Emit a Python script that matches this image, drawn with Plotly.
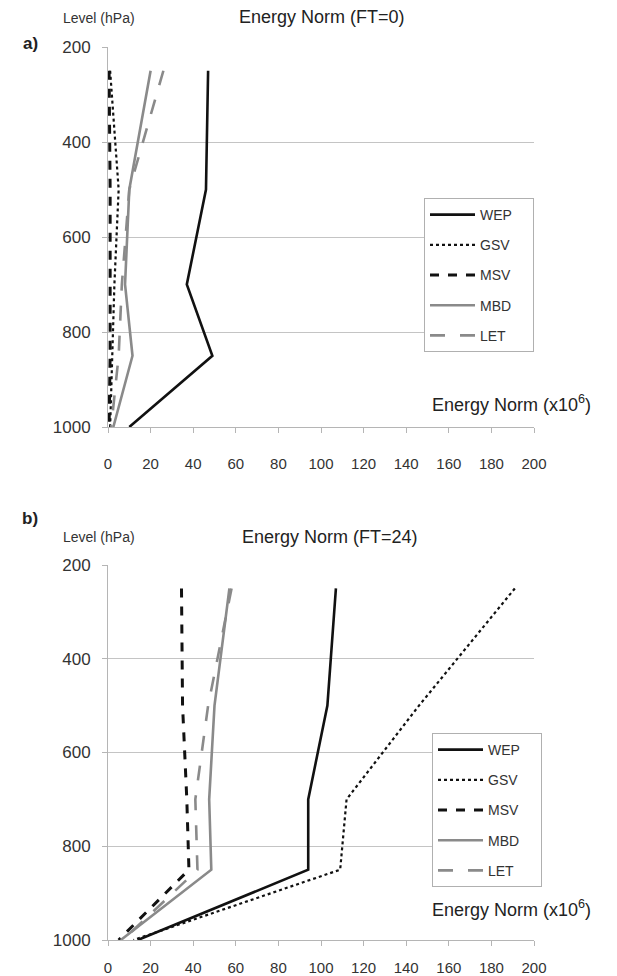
import plotly.graph_objects as go

levels = [250, 500, 700, 850, 1000]
series_names = ["WEP", "GSV", "MSV", "MBD", "LET"]

# FT=0 (panel a)
wep_ft0 = [47, 46, 37, 49, 10]
gsv_ft0 = [1, 5, 3, 2, 1]
msv_ft0 = [0.5, 1, 1, 1, 0.5]
mbd_ft0 = [20, 10, 8, 11.5, 2.5]
let_ft0 = [26, 10, 6.5, 5, 1.5]

# FT=24 (panel b)
wep_ft24 = [107, 103, 94, 94, 14]
gsv_ft24 = [191, 146, 112, 109, 12]
msv_ft24 = [34.5, 35, 37, 38, 5]
mbd_ft24 = [57, 50, 47.5, 48.5, 6]
let_ft24 = [58, 47, 41, 42, 7]

x_ticks = list(range(0, 201, 20))
y_ticks = [200, 400, 600, 800, 1000]

styles = {
    "WEP": dict(color="#111111", width=2.6, dash="solid"),
    "GSV": dict(color="#111111", width=2.2, dash="dot"),
    "MSV": dict(color="#111111", width=3, dash="dash"),
    "MBD": dict(color="#8a8a8a", width=2.6, dash="solid"),
    "LET": dict(color="#8a8a8a", width=2.6, dash="longdash"),
}

PAD = "\u00a0" * 4

fig = go.Figure()
top = [wep_ft0, gsv_ft0, msv_ft0, mbd_ft0, let_ft0]
bot = [wep_ft24, gsv_ft24, msv_ft24, mbd_ft24, let_ft24]
for name, vals in zip(series_names, top):
    fig.add_trace(go.Scatter(x=vals, y=levels, mode="lines", name=name + PAD,
                             line=styles[name], xaxis="x", yaxis="y",
                             legend="legend", legendgroup="a" + name))
for name, vals in zip(series_names, bot):
    fig.add_trace(go.Scatter(x=vals, y=levels, mode="lines", name=name + PAD,
                             line=styles[name], xaxis="x2", yaxis="y2",
                             legend="legend2", legendgroup="b" + name))

W, H = 617, 976
xdom = [108 / W, 534 / W]
ydom_top = [1 - 427 / H, 1 - 47 / H]
ydom_bot = [1 - 940 / H, 1 - 565 / H]

xcommon = dict(range=[0, 200], tickvals=x_ticks, showgrid=False, showline=True,
               linecolor="#b5b5b5", linewidth=1, ticks="outside", ticklen=5,
               tickcolor="#b5b5b5", tickfont=dict(size=15, color="#333333"),
               zeroline=False, automargin=False)
ycommon = dict(range=[1000, 200], tickvals=y_ticks, showgrid=True,
               gridcolor="#c4c4c4", gridwidth=1, showline=True,
               linecolor="#b5b5b5", linewidth=1, ticks="outside", ticklen=5,
               tickcolor="#b5b5b5", tickfont=dict(size=17, color="#333333"),
               zeroline=False, ticklabelstandoff=8, automargin=False)

legend_common = dict(xanchor="left", yanchor="top", bgcolor="white",
                     bordercolor="#b0b0b0", borderwidth=1,
                     font=dict(size=14, color="#333333"), tracegroupgap=9,
                     itemwidth=45)

fig.update_layout(
    width=W, height=H,
    margin=dict(l=0, r=0, t=0, b=0, pad=0, autoexpand=False),
    paper_bgcolor="white", plot_bgcolor="white",
    font=dict(family="Liberation Sans, Arial, sans-serif", color="#222222"),
    xaxis=dict(domain=xdom, anchor="y", ticklabelstandoff=18, **xcommon),
    yaxis=dict(domain=ydom_top, anchor="x", **ycommon),
    xaxis2=dict(domain=xdom, anchor="y2", ticklabelstandoff=9, **xcommon),
    yaxis2=dict(domain=ydom_bot, anchor="x2", **ycommon),
    legend=dict(x=424 / W, y=1 - 198 / H, **legend_common),
    legend2=dict(x=432 / W, y=1 - 733 / H, **legend_common),
    showlegend=True,
)

annotations = [
    dict(text="Level (hPa)", x=99 / W, y=1 - 18 / H, font=dict(size=14, color="#333333")),
    dict(text="Energy Norm (FT=0)", x=322 / W, y=1 - 17 / H, font=dict(size=18, color="#222222")),
    dict(text="<b>a)</b>", x=30 / W, y=1 - 43 / H, font=dict(size=17, color="#222222")),
    dict(text="Energy Norm (x10<sup>6</sup>)", x=430 / W, y=1 - 403 / H, xanchor="left",
         font=dict(size=18, color="#222222")),
    dict(text="Level (hPa)", x=99 / W, y=1 - 537 / H, font=dict(size=14, color="#333333")),
    dict(text="Energy Norm (FT=24)", x=330 / W, y=1 - 537 / H, font=dict(size=18, color="#222222")),
    dict(text="<b>b)</b>", x=30 / W, y=1 - 518 / H, font=dict(size=17, color="#222222")),
    dict(text="Energy Norm (x10<sup>6</sup>)", x=430 / W, y=1 - 908 / H, xanchor="left",
         font=dict(size=18, color="#222222")),
]
for a in annotations:
    a.setdefault("xanchor", "center")
    a.update(xref="paper", yref="paper", yanchor="middle", showarrow=False)
fig.update_layout(annotations=annotations)

fig.write_html("out.html")
